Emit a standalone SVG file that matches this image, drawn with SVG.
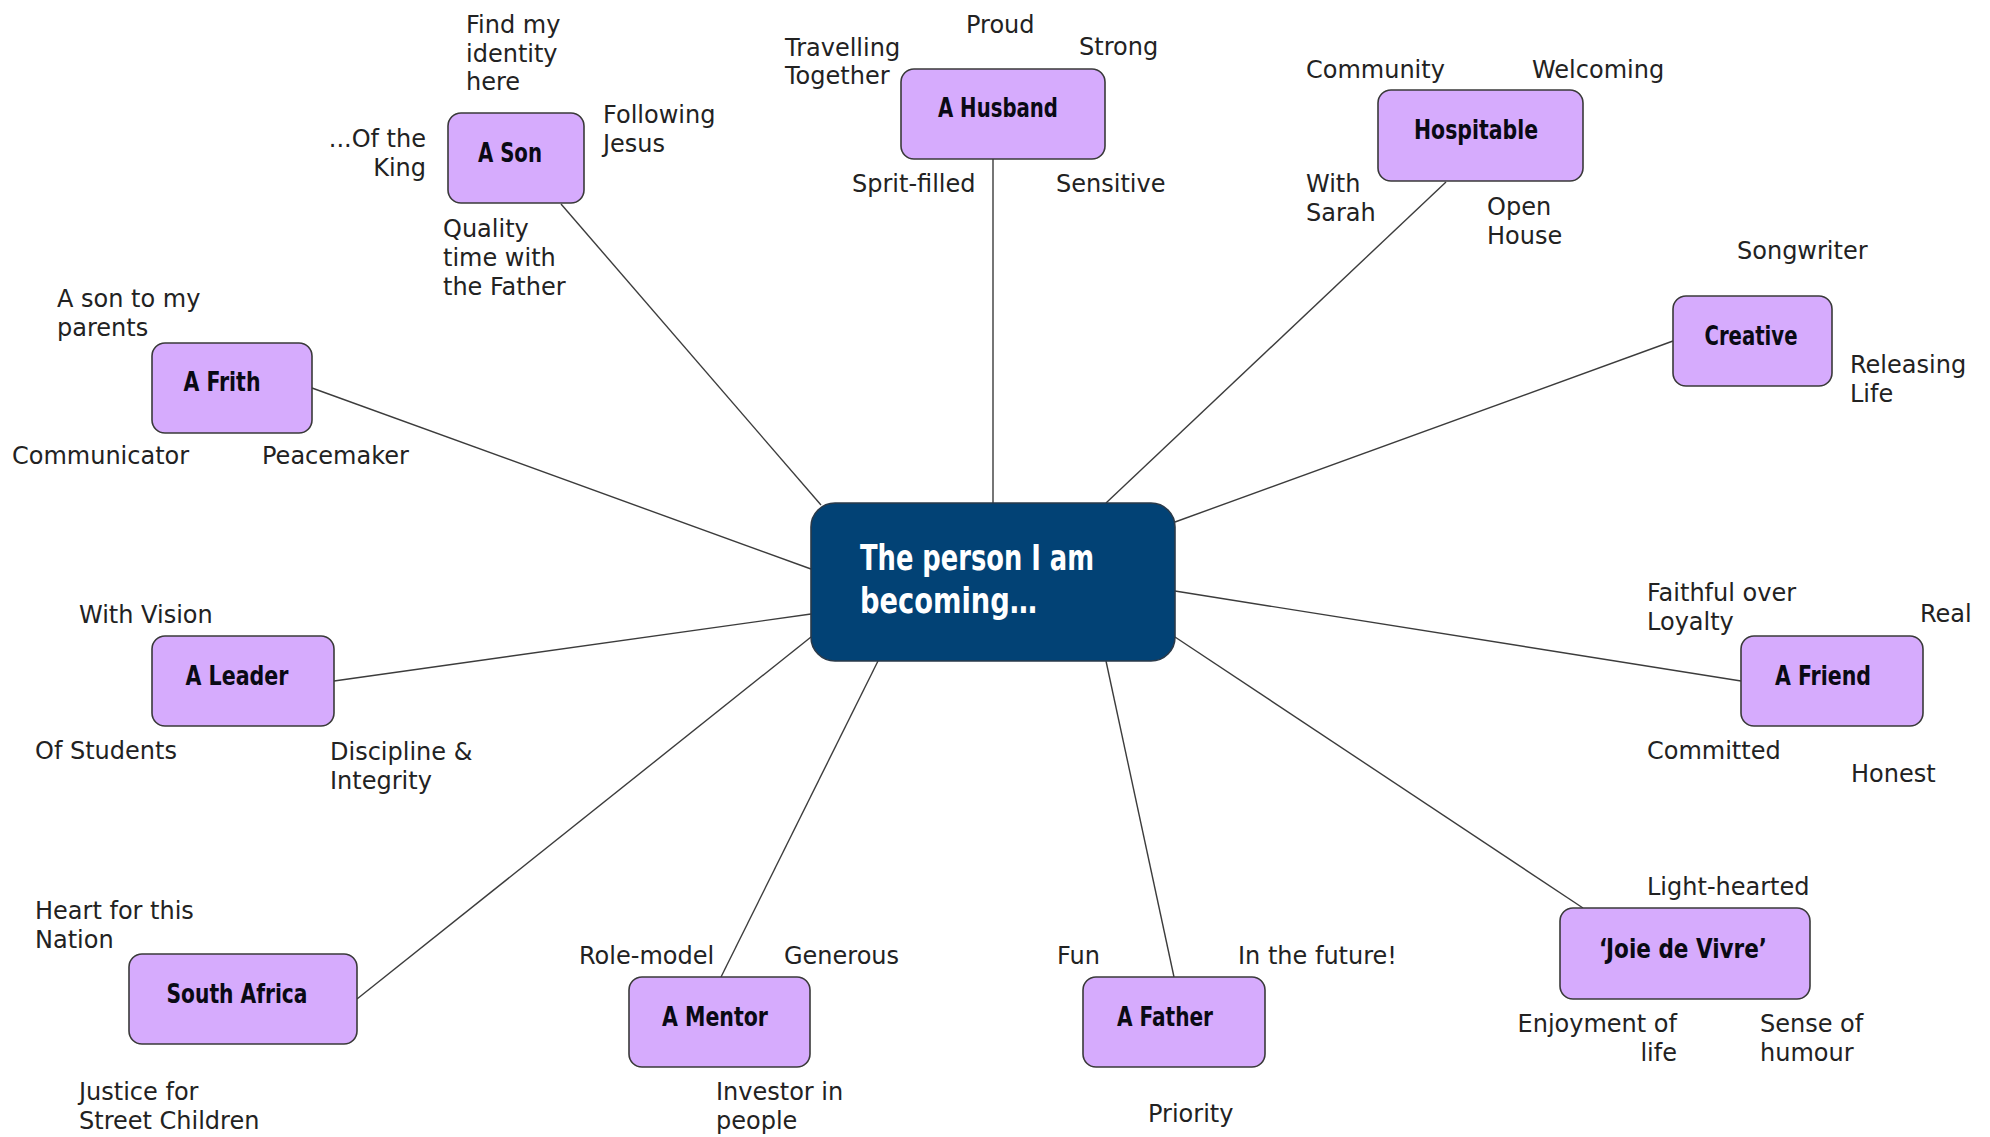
<svg xmlns="http://www.w3.org/2000/svg" width="1990" height="1137" viewBox="0 0 1990 1137">
<style>
.node{fill:#d6abfd;stroke:#3a3a3a;stroke-width:1.6}
.center{fill:#024275;stroke:#2a3a4a;stroke-width:1.6}
.nt{font-family:"Liberation Sans Narrow","DejaVu Sans Condensed","Liberation Sans",sans-serif;font-weight:bold;font-size:27px;fill:#0a0a14;text-anchor:middle}
.ct{font-family:"Liberation Sans Narrow","DejaVu Sans Condensed","Liberation Sans",sans-serif;font-weight:bold;font-size:36px;fill:#ffffff}
.lb{font-family:"DejaVu Sans","Verdana",sans-serif;font-size:24px;fill:#222222}
.end{text-anchor:end}
.conn line{stroke:#3c3c3c;stroke-width:1.4}
</style>
<rect width="1990" height="1137" fill="#ffffff"/>
<g id="connectors" class="conn">
<line x1="561" y1="204" x2="821" y2="505"/>
<line x1="993" y1="159" x2="993" y2="503"/>
<line x1="1446" y1="182" x2="1106" y2="503"/>
<line x1="1673" y1="341" x2="1175" y2="522"/>
<line x1="312" y1="388" x2="811" y2="569"/>
<line x1="334" y1="681" x2="811" y2="614"/>
<line x1="357" y1="999" x2="811" y2="637"/>
<line x1="721" y1="977" x2="878" y2="661"/>
<line x1="1174" y1="977" x2="1106" y2="661"/>
<line x1="1583" y1="908" x2="1175" y2="637"/>
<line x1="1741" y1="681" x2="1175" y2="591"/>
</g>
<g id="center">
<rect class="center" x="811" y="503" width="364" height="158" rx="24"/>
<text class="ct" x="860" y="570" textLength="234" lengthAdjust="spacingAndGlyphs">The person I am</text>
<text class="ct" x="860" y="613" textLength="177" lengthAdjust="spacingAndGlyphs">becoming…</text>
</g>
<g id="son">
<rect class="node" x="448" y="113" width="136" height="90" rx="13"/>
<text class="nt" x="510" y="162" textLength="64" lengthAdjust="spacingAndGlyphs">A Son</text>
<text class="lb" x="466" y="33">Find my<tspan x="466" dy="28.5">identity</tspan><tspan x="466" dy="28.5">here</tspan></text>
<text class="lb end" x="426" y="147">...Of the<tspan x="426" dy="28.5">King</tspan></text>
<text class="lb" x="603" y="123">Following<tspan x="603" dy="28.5">Jesus</tspan></text>
<text class="lb" x="443" y="237">Quality<tspan x="443" dy="29">time with</tspan><tspan x="443" dy="29">the Father</tspan></text>
</g>
<g id="husband">
<rect class="node" x="901" y="69" width="204" height="90" rx="13"/>
<text class="nt" x="998" y="117" textLength="120" lengthAdjust="spacingAndGlyphs">A Husband</text>
<text class="lb" x="966" y="33">Proud</text>
<text class="lb" x="785" y="56">Travelling<tspan x="785" dy="28">Together</tspan></text>
<text class="lb" x="1079" y="55">Strong</text>
<text class="lb" x="852" y="192">Sprit-filled</text>
<text class="lb" x="1056" y="192">Sensitive</text>
</g>
<g id="hospitable">
<rect class="node" x="1378" y="90" width="205" height="91" rx="13"/>
<text class="nt" x="1476" y="139" textLength="124" lengthAdjust="spacingAndGlyphs">Hospitable</text>
<text class="lb" x="1306" y="78">Community</text>
<text class="lb" x="1532" y="78">Welcoming</text>
<text class="lb" x="1306" y="192">With<tspan x="1306" dy="28.5">Sarah</tspan></text>
<text class="lb" x="1487" y="215">Open<tspan x="1487" dy="28.5">House</tspan></text>
</g>
<g id="creative">
<rect class="node" x="1673" y="296" width="159" height="90" rx="13"/>
<text class="nt" x="1751" y="345" textLength="93" lengthAdjust="spacingAndGlyphs">Creative</text>
<text class="lb" x="1737" y="259">Songwriter</text>
<text class="lb" x="1850" y="373">Releasing<tspan x="1850" dy="29">Life</tspan></text>
</g>
<g id="frith">
<rect class="node" x="152" y="343" width="160" height="90" rx="13"/>
<text class="nt" x="222" y="391" textLength="77" lengthAdjust="spacingAndGlyphs">A Frith</text>
<text class="lb" x="57" y="307">A son to my<tspan x="57" dy="28.5">parents</tspan></text>
<text class="lb" x="12" y="464">Communicator</text>
<text class="lb" x="262" y="464">Peacemaker</text>
</g>
<g id="leader">
<rect class="node" x="152" y="636" width="182" height="90" rx="13"/>
<text class="nt" x="237" y="685" textLength="103" lengthAdjust="spacingAndGlyphs">A Leader</text>
<text class="lb" x="79" y="623">With Vision</text>
<text class="lb" x="35" y="759">Of Students</text>
<text class="lb" x="330" y="760">Discipline &amp;<tspan x="330" dy="28.5">Integrity</tspan></text>
</g>
<g id="southafrica">
<rect class="node" x="129" y="954" width="228" height="90" rx="13"/>
<text class="nt" x="237" y="1003" textLength="141" lengthAdjust="spacingAndGlyphs">South Africa</text>
<text class="lb" x="35" y="919">Heart for this<tspan x="35" dy="28.5">Nation</tspan></text>
<text class="lb" x="79" y="1100">Justice for<tspan x="79" dy="28.5">Street Children</tspan></text>
</g>
<g id="mentor">
<rect class="node" x="629" y="977" width="181" height="90" rx="13"/>
<text class="nt" x="715" y="1026" textLength="106" lengthAdjust="spacingAndGlyphs">A Mentor</text>
<text class="lb" x="579" y="964">Role-model</text>
<text class="lb" x="784" y="964">Generous</text>
<text class="lb" x="716" y="1100">Investor in<tspan x="716" dy="28.5">people</tspan></text>
</g>
<g id="father">
<rect class="node" x="1083" y="977" width="182" height="90" rx="13"/>
<text class="nt" x="1165" y="1026" textLength="96" lengthAdjust="spacingAndGlyphs">A Father</text>
<text class="lb" x="1057" y="964">Fun</text>
<text class="lb" x="1238" y="964">In the future!</text>
<text class="lb" x="1148" y="1122">Priority</text>
</g>
<g id="friend">
<rect class="node" x="1741" y="636" width="182" height="90" rx="13"/>
<text class="nt" x="1823" y="685" textLength="96" lengthAdjust="spacingAndGlyphs">A Friend</text>
<text class="lb" x="1647" y="601">Faithful over<tspan x="1647" dy="28.5">Loyalty</tspan></text>
<text class="lb" x="1920" y="622">Real</text>
<text class="lb" x="1647" y="759">Committed</text>
<text class="lb" x="1851" y="782">Honest</text>
</g>
<g id="joie">
<rect class="node" x="1560" y="908" width="250" height="91" rx="13"/>
<text class="nt" x="1683" y="958" textLength="168" lengthAdjust="spacingAndGlyphs">‘Joie de Vivre’</text>
<text class="lb" x="1647" y="895">Light-hearted</text>
<text class="lb end" x="1677" y="1032">Enjoyment of<tspan x="1677" dy="28.5">life</tspan></text>
<text class="lb" x="1760" y="1032">Sense of<tspan x="1760" dy="28.5">humour</tspan></text>
</g>
</svg>
